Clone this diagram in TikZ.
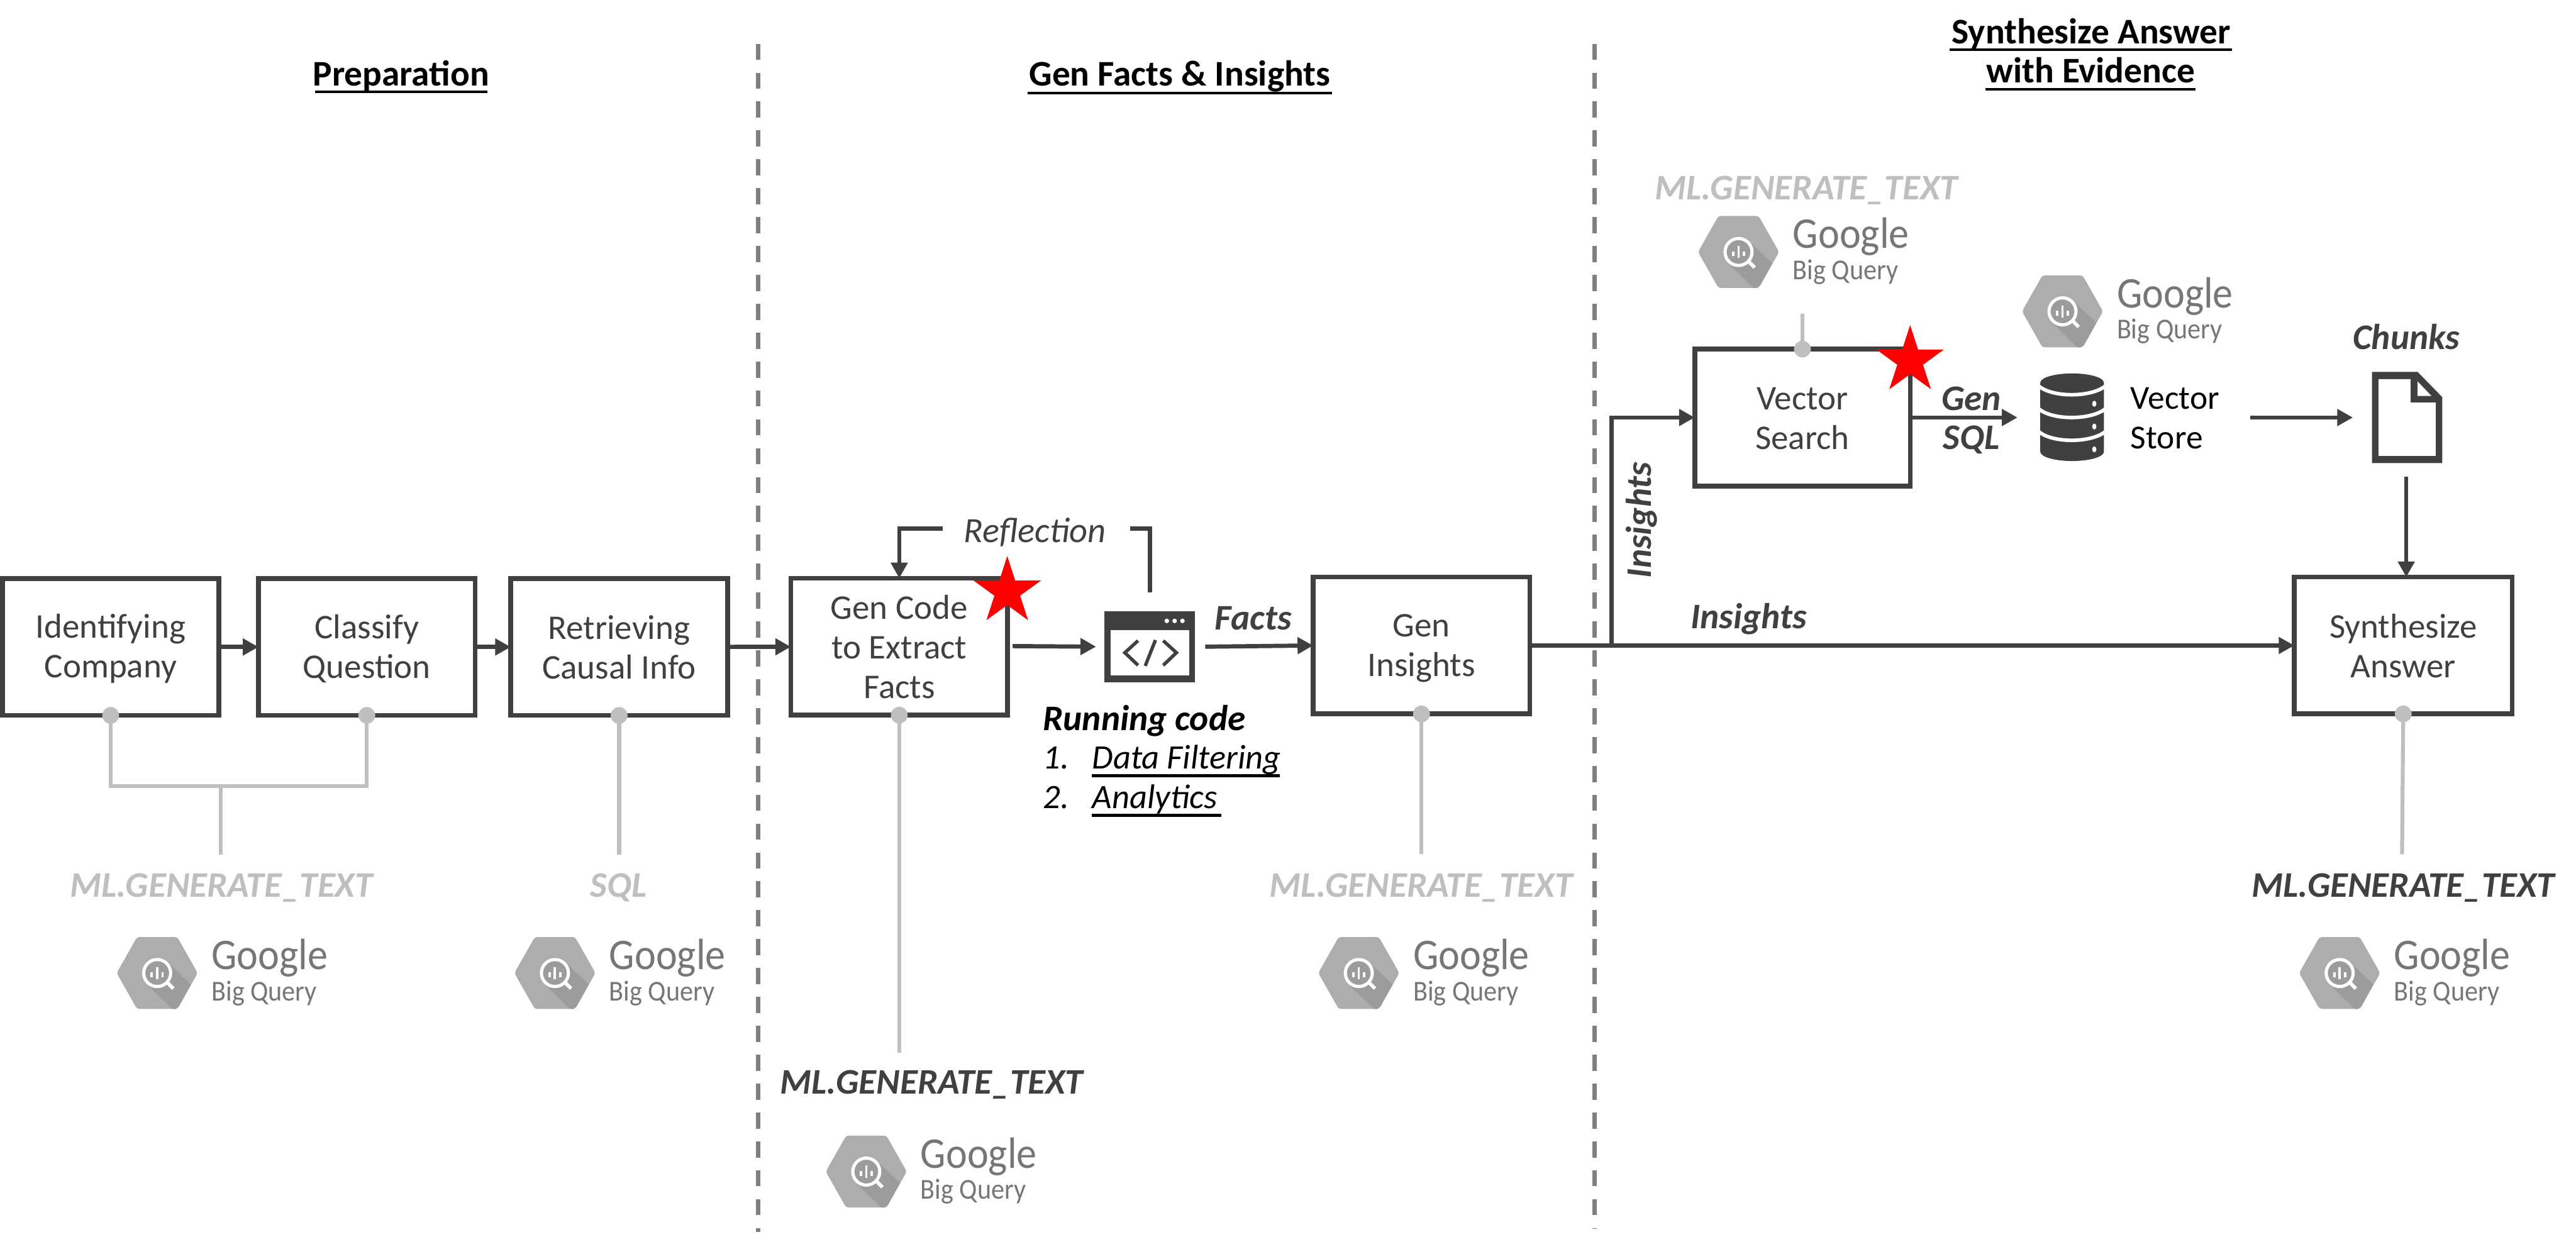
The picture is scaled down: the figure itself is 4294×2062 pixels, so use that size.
\documentclass[tikz,border=0pt]{standalone}
\usepackage{fontspec}
\setmainfont{Carlito}
\newfontfamily\logofont[FakeStretch=0.92]{Carlito}
\usetikzlibrary{arrows.meta,shapes.geometric}
\definecolor{dk}{HTML}{404040}
\definecolor{lg}{HTML}{BFBFBF}
\definecolor{dg}{HTML}{7F7F7F}
\definecolor{hexa}{HTML}{ADADAD}
\definecolor{hexb}{HTML}{9C9C9C}
\definecolor{gt}{HTML}{767676}
\newcommand{\st}{\rule[-.1em]{0pt}{.9em}}
\tikzset{
  box/.style={draw=dk,line width=2.28pt,fill=white,minimum width=3.61cm,minimum height=2.28cm,inner sep=0pt,outer sep=0pt,align=center,text=dk,font=\fontsize{16.4pt}{18.78pt}\selectfont},
  conn/.style={draw=dk,line width=2pt,-{Triangle[length=.26cm,width=.27cm]}},
  plainconn/.style={draw=dk,line width=2pt},
  gline/.style={draw=lg,line width=1.85pt},
  gdot/.style={circle,fill=lg,inner sep=0pt,minimum size=.28cm,outer sep=0pt},
  divider/.style={draw=dg,line width=2pt,dash pattern=on 7.68pt off 6.01pt},
  redstar/.style={star,star points=5,star point ratio=2.618,fill=red,inner sep=0pt,outer sep=0pt,minimum size=1.18cm},
  title/.style={anchor=base,inner sep=0pt,font=\fontsize{17.1pt}{18.78pt}\selectfont\bfseries,text=black},
  lab/.style={anchor=base,inner sep=0pt,font=\fontsize{17.07pt}{18.78pt}\selectfont\bfseries\itshape,text=dk},
  glab/.style={lab,text=lg},
  plain/.style={anchor=base west,inner sep=0pt,font=\fontsize{15.93pt}{18.78pt}\selectfont,text=black},
  item/.style={anchor=base west,inner sep=0pt,font=\fontsize{16.22pt}{18.78pt}\selectfont\itshape,text=black},
  ul/.style={draw=black,line width=1.3pt},
}
\newcommand{\bqlogo}[3]{%
  \begin{scope}[shift={(#2,#3)}]
    \fill[hexa,rounded corners=1.2pt] (-33.5,-60) -- (33.5,-60) -- (67.5,0) -- (33.5,60) -- (-33.5,60) -- (-67.5,0) -- cycle;
    \fill[hexb] (17,-18) -- (56.5,19) -- (36,56) -- (31,60) -- (25,60) -- (-16,20) -- cycle;
    \draw[white,line width=1.5pt,fill=hexb] (0,0) circle (22.5);
    \draw[white,line width=1.7pt] (17,16) -- (27,26);
    \fill[white] (-11,-1) rectangle (-7,7);
    \fill[white] (-2,-10) rectangle (2,10);
    \fill[white] (7,-1) rectangle (11,7);
    \node[anchor=base west,inner sep=0pt,text=gt,font=\fontsize{20.77pt}{22pt}\logofont] (#1g) at (90,-6) {Google};
    \node[anchor=base west,inner sep=0pt,text=gt,font=\fontsize{13.66pt}{15pt}\logofont] (#1b) at (90,46) {Big Query};
  \end{scope}}
\begin{document}
\begin{tikzpicture}[x=0.01cm,y=-0.01cm]
\useasboundingbox (0,0) rectangle (4294,2062);
\fill[white] (0,0) rectangle (4294,2062);

% dividers
\coordinate (da) at (1264,73); \coordinate (db) at (1264,2054);
\coordinate (dc) at (2658,73); \coordinate (dd) at (2658,2047);
\draw[divider] (da) -- (db);
\draw[divider] (dc) -- (dd);

% titles
\node[title] (t1) at (668.5,143) {Preparation};
\node[title] (t2) at (1966.5,143) {Gen Facts \& Insights};
\node[title] (t3) at (3486,73) {Synthesize Answer};
\node[title] (t4) at (3485,138) {with Evidence};
\draw[ul] (525,153) -- (812,153);
\draw[ul] (1713,155) -- (2220,155);
\draw[ul] (3250,83) -- (3720,83);
\draw[ul] (3310,149) -- (3660,149);

% grey stems (beneath boxes)
\coordinate (gj) at (368,1310);
\coordinate (gend) at (368,1425);
\coordinate (send) at (1032,1425);
\coordinate (cend) at (1499,1755);
\coordinate (iend) at (2369.5,1424);
\coordinate (vend) at (3004.5,523);
\coordinate (yend) at (4004,1424);

% boxes
\node[box] (ident) at (184.5,1078.5) {Identifying\st\\Company\st};
\node[box] (class) at (611.5,1078.5) {Classify\st\\Question\st};
\node[box] (retr) at (1032,1078.5) {Retrieving\st\\Causal Info\st};
\node[box] (gencode) at (1499,1078) {Gen Code\st\\to Extract\st\\Facts\st};
\node[box] (insights) at (2369.5,1076) {Gen\st\\Insights\st};
\node[box,minimum width=3.59cm] (vs) at (3004.5,696) {Vector\st\\Search\st};
\node[box,minimum width=3.63cm] (synth) at (4006,1076) {Synthesize\st\\Answer\st};

\draw[gline] (ident.south) -- (ident.south |- gj) -- (class.south |- gj) -- (class.south);
\draw[gline] (gj) -- (gend);
\draw[gline] (retr.south) -- (send);
\draw[gline] (gencode.south) -- (cend);
\draw[gline] (insights.south) -- (iend);
\draw[gline] (vs.north) -- (vend);
\draw[gline] (synth.south) -- (yend);
\node[gdot] (d1) at (ident.south) {};
\node[gdot] (d2) at (class.south) {};
\node[gdot] (d3) at (retr.south) {};
\node[gdot] (d4) at (gencode.south) {};
\node[gdot] (d5) at (insights.south) {};
\node[gdot] (d6) at (vs.north) {};
\node[gdot] (d7) at (synth.south) {};

% main connectors
\draw[conn] (ident) -- (class);
\draw[conn] (class) -- (retr);
\draw[conn] (retr) -- (gencode);
\coordinate (ca) at (1688,1077);
\coordinate (cb) at (1827,1078);
\draw[conn] (ca) -- (cb);
\coordinate (fa) at (2009,1078);
\draw[conn] (fa) -- (insights.west);
\coordinate (ra) at (1571,881);
\coordinate (rb) at (1884,881);
\coordinate (rc) at (1917,987);
\draw[conn] (ra) -| (gencode.north);
\draw[plainconn] (rb) -| (rc);
\draw[conn] (insights) -- (synth);
\coordinate (branch) at (2686,1076);
\draw[conn] (branch) |- (vs.west);
\coordinate (sq) at (3363,696);
\draw[conn] (vs.east) -- (sq);
\coordinate (dsa) at (3751,696);
\coordinate (dsb) at (3922,696);
\draw[conn] (dsa) -- (dsb);
\coordinate (cha) at (4011,795);
\draw[conn] (cha) -- (cha |- synth.north);

% stars
\node[redstar] (s1) at (1679,986) {};
\node[redstar] (s2) at (3184,601) {};

% code icon
\node[draw=none,fill=dk,minimum width=1.51cm,minimum height=1.18cm,inner sep=0pt,outer sep=0pt] (code) at (1916.5,1078) {};
\fill[white] (1851,1050) rectangle (1982,1126);
\fill[white] (1945,1035) circle (3.8) (1958,1035) circle (3.8) (1971,1035) circle (3.8);
\draw[dk,line width=1.6pt] (1897,1068) -- (1875,1088) -- (1897,1109);
\draw[dk,line width=1.6pt] (1939,1068) -- (1961,1088) -- (1939,1109);
\draw[dk,line width=1.6pt] (1926,1067) -- (1909,1110);

% database icon
\fill[dk] (3401,638) arc[start angle=180,end angle=360,x radius=53,y radius=15.5] -- (3507,753) arc[start angle=0,end angle=180,x radius=53,y radius=15.5] -- cycle;
\draw[white,line width=1.7pt] (3398,643) .. controls (3420,663) and (3486,663) .. (3510,643);
\draw[white,line width=1.7pt] (3398,681) .. controls (3420,701) and (3486,701) .. (3510,681);
\draw[white,line width=1.7pt] (3398,719) .. controls (3420,739) and (3486,739) .. (3510,719);
\fill[white] (3491,673) ellipse (3.5 and 5) (3491,711) ellipse (3.5 and 5) (3491,749) ellipse (3.5 and 5);

% document icon
\fill[dk] (3954,620) -- (4030,620) -- (4071,662) -- (4071,772) -- (3954,772) -- cycle;
\fill[white] (3965,632) -- (4018,632) -- (4018,671) -- (4060,671) -- (4060,760) -- (3965,760) -- cycle;
\fill[white] (4030,636) -- (4030,660) -- (4053,660) -- cycle;

% labels
\node[anchor=base,inner sep=0pt,text=dk,font=\fontsize{16.8pt}{18.78pt}\selectfont\itshape] (refl) at (1725,904) {Reflection};
\node[lab] (factsl) at (2089,1050) {Facts};
\node[lab,text=black,anchor=base west] (run) at (1738,1218) {Running code};
\node[item] (n1) at (1738,1282) {1.};
\node[item] (n2) at (1738,1348) {2.};
\node[item] (i1) at (1820,1282) {Data Filtering};
\node[item] (i2) at (1820,1348) {Analytics};
\draw[ul] (1820,1293) -- (2133,1293);
\draw[ul] (1820,1359) -- (2036,1359);
\node[lab] (insh) at (2915,1048) {Insights};
\node[lab,anchor=center,rotate=90] (insv) at (2736,867) {Insights};
\node[lab] (gen) at (3286,684) {Gen};
\node[lab] (sql) at (3286,749) {SQL};
\node[lab] (chunks) at (4011,582) {Chunks};
\node[plain] (vs1) at (3551,682) {Vector};
\node[plain] (vs2) at (3551,748) {Store};

\node[glab] (m1) at (369,1495) {ML.GENERATE\_TEXT};
\node[glab] (m2) at (1031,1495) {SQL};
\node[lab] (m3) at (1553,1824) {ML.GENERATE\_TEXT};
\node[glab] (m4) at (2369,1495) {ML.GENERATE\_TEXT};
\node[lab] (m5) at (4006,1495) {ML.GENERATE\_TEXT};
\node[glab] (m6) at (3011,333) {ML.GENERATE\_TEXT};

% logos
\bqlogo{la}{262}{1622}
\bqlogo{lb}{925}{1622}
\bqlogo{lc}{1444}{1953}
\bqlogo{ld}{2265}{1622}
\bqlogo{le}{3900}{1622}
\bqlogo{lf}{2898}{420}
\bqlogo{lg}{3438}{519}
\end{tikzpicture}
\end{document}
